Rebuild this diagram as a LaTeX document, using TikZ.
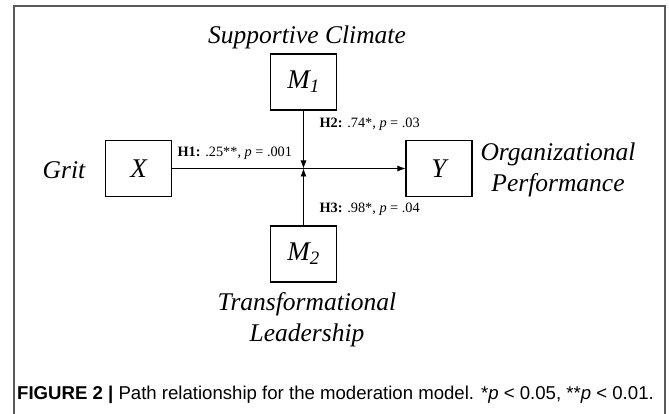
\documentclass[tikz,border=0pt]{standalone}
\usepackage{fontspec}
\setmainfont{Liberation Serif}
\newfontfamily\capfont{Liberation Sans}
\usetikzlibrary{arrows.meta}
\begin{document}
\begin{tikzpicture}[x=1pt, y=-1pt,
    var/.style={draw, line width=1.1pt, minimum width=66pt, minimum height=56pt,
                inner sep=0pt, font=\fontsize{27}{30}\selectfont\itshape},
    txt/.style={font=\fontsize{25.5}{31}\selectfont\itshape, align=center},
    hyp/.style={font=\fontsize{14.3}{16}\selectfont, anchor=west},
    >={Latex[length=8pt, width=6pt]}]
    \useasboundingbox (0, 0) rectangle (669, 414);
    % frame
    \draw[line width=2pt, black!65] (14, 414) -- (14, 6) -- (665, 6) -- (665, 414);
    % variables
    \node[var] (x) at (138.5, 168.5) {X};
    \node[var] (y) at (439, 168.5) {Y};
    \node[var] (m1) at (303.5, 82) {M\textsubscript{1}};
    \node[var] (m2) at (303.5, 254) {M\textsubscript{2}};
    \coordinate (mod) at (303.5, 168.5);
    % names
    \node[txt] (grit) at (64, 170) {Grit};
    \node[txt] (clim) at (307, 37) {Supportive Climate};
    \node[txt] (perf) at (558, 170) {Organizational\\Performance};
    \node[txt] (lead) at (307, 320) {Transformational\\Leadership};
    % paths
    \draw[line width=0.8pt, ->] (x) -- (y);
    \draw[line width=0.8pt, ->] (m1) -- (mod);
    \draw[line width=0.8pt, ->] (m2) -- (mod);
    \node[hyp] (h1) at (174, 153) {\textbf{H1:} .25**, \textit{p} = .001};
    \node[hyp] (h2) at (316, 124) {\textbf{H2:} .74*, \textit{p} = .03};
    \node[hyp] (h3) at (316, 209) {\textbf{H3:} .98*, \textit{p} = .04};
    % caption
    \node[anchor=west, inner sep=0pt, font=\capfont\fontsize{18.6}{22}\selectfont] (cap) at (17, 395)
        {\textbf{FIGURE 2 |} Path relationship for the moderation model. *\textit{p} < 0.05, **\textit{p} < 0.01.};
\end{tikzpicture}
\end{document}
